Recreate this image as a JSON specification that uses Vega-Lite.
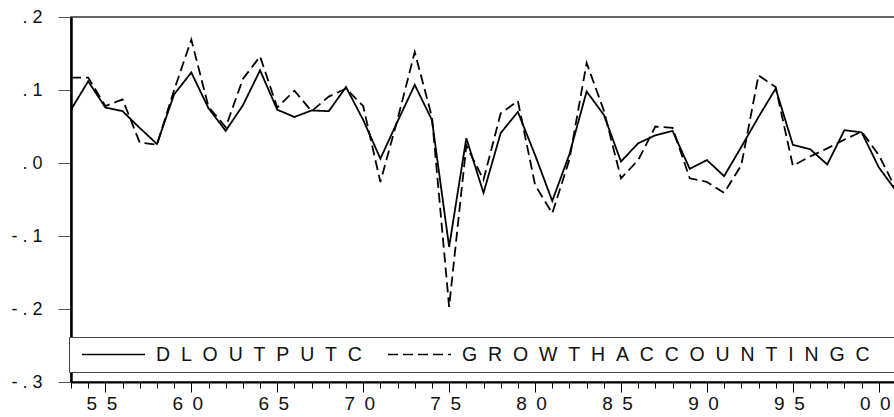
{
  "$schema": "https://vega.github.io/schema/vega-lite/v6.json",
  "width": 825,
  "height": 365,
  "autosize": {"type": "none"},
  "padding": {"left": 71, "top": 17, "right": 0, "bottom": 35},
  "background": "white",
  "config": {
    "font": "Liberation Sans",
    "view": {"stroke": "#333", "strokeWidth": 1.5},
    "legend": {
      "orient": "none",
      "legendX": -2,
      "legendY": 320,
      "direction": "horizontal",
      "columns": 2,
      "fillColor": "#ffffff",
      "strokeColor": "#444444",
      "strokeWidth": 1,
      "padding": 8,
      "cornerRadius": 0,
      "symbolType": "stroke",
      "symbolSize": 3969,
      "symbolStrokeWidth": 1.5,
      "symbolOffset": 4,
      "clipHeight": 19,
      "labelOffset": 10,
      "labelFontSize": 19.5,
      "labelFont": "Liberation Sans",
      "labelColor": "#111111",
      "labelLimit": 0,
      "columnPadding": 21
    }
  },
  "data": {
    "values": [
      {"year": 1953, "DLOUTPUTC": 0.073, "GROWTHACCOUNTINGC": 0.117},
      {"year": 1954, "DLOUTPUTC": 0.112, "GROWTHACCOUNTINGC": 0.117},
      {"year": 1955, "DLOUTPUTC": 0.076, "GROWTHACCOUNTINGC": 0.078},
      {"year": 1956, "DLOUTPUTC": 0.071, "GROWTHACCOUNTINGC": 0.087},
      {"year": 1957, "DLOUTPUTC": 0.048, "GROWTHACCOUNTINGC": 0.028},
      {"year": 1958, "DLOUTPUTC": 0.026, "GROWTHACCOUNTINGC": 0.025},
      {"year": 1959, "DLOUTPUTC": 0.094, "GROWTHACCOUNTINGC": 0.100},
      {"year": 1960, "DLOUTPUTC": 0.124, "GROWTHACCOUNTINGC": 0.169},
      {"year": 1961, "DLOUTPUTC": 0.075, "GROWTHACCOUNTINGC": 0.077},
      {"year": 1962, "DLOUTPUTC": 0.044, "GROWTHACCOUNTINGC": 0.049},
      {"year": 1963, "DLOUTPUTC": 0.079, "GROWTHACCOUNTINGC": 0.115},
      {"year": 1964, "DLOUTPUTC": 0.127, "GROWTHACCOUNTINGC": 0.146},
      {"year": 1965, "DLOUTPUTC": 0.073, "GROWTHACCOUNTINGC": 0.076},
      {"year": 1966, "DLOUTPUTC": 0.063, "GROWTHACCOUNTINGC": 0.099},
      {"year": 1967, "DLOUTPUTC": 0.072, "GROWTHACCOUNTINGC": 0.071},
      {"year": 1968, "DLOUTPUTC": 0.071, "GROWTHACCOUNTINGC": 0.091},
      {"year": 1969, "DLOUTPUTC": 0.104, "GROWTHACCOUNTINGC": 0.102},
      {"year": 1970, "DLOUTPUTC": 0.059, "GROWTHACCOUNTINGC": 0.078},
      {"year": 1971, "DLOUTPUTC": 0.006, "GROWTHACCOUNTINGC": -0.026},
      {"year": 1972, "DLOUTPUTC": 0.057, "GROWTHACCOUNTINGC": 0.060},
      {"year": 1973, "DLOUTPUTC": 0.107, "GROWTHACCOUNTINGC": 0.152},
      {"year": 1974, "DLOUTPUTC": 0.059, "GROWTHACCOUNTINGC": 0.063},
      {"year": 1975, "DLOUTPUTC": -0.115, "GROWTHACCOUNTINGC": -0.197},
      {"year": 1976, "DLOUTPUTC": 0.034, "GROWTHACCOUNTINGC": 0.024},
      {"year": 1977, "DLOUTPUTC": -0.041, "GROWTHACCOUNTINGC": -0.023},
      {"year": 1978, "DLOUTPUTC": 0.041, "GROWTHACCOUNTINGC": 0.068},
      {"year": 1979, "DLOUTPUTC": 0.070, "GROWTHACCOUNTINGC": 0.085},
      {"year": 1980, "DLOUTPUTC": 0.011, "GROWTHACCOUNTINGC": -0.030},
      {"year": 1981, "DLOUTPUTC": -0.052, "GROWTHACCOUNTINGC": -0.069},
      {"year": 1982, "DLOUTPUTC": 0.012, "GROWTHACCOUNTINGC": 0.005},
      {"year": 1983, "DLOUTPUTC": 0.098, "GROWTHACCOUNTINGC": 0.137},
      {"year": 1984, "DLOUTPUTC": 0.066, "GROWTHACCOUNTINGC": 0.072},
      {"year": 1985, "DLOUTPUTC": 0.002, "GROWTHACCOUNTINGC": -0.021},
      {"year": 1986, "DLOUTPUTC": 0.027, "GROWTHACCOUNTINGC": 0.004},
      {"year": 1987, "DLOUTPUTC": 0.038, "GROWTHACCOUNTINGC": 0.050},
      {"year": 1988, "DLOUTPUTC": 0.044, "GROWTHACCOUNTINGC": 0.048},
      {"year": 1989, "DLOUTPUTC": -0.008, "GROWTHACCOUNTINGC": -0.021},
      {"year": 1990, "DLOUTPUTC": 0.004, "GROWTHACCOUNTINGC": -0.026},
      {"year": 1991, "DLOUTPUTC": -0.018, "GROWTHACCOUNTINGC": -0.041},
      {"year": 1992, "DLOUTPUTC": 0.022, "GROWTHACCOUNTINGC": -0.003},
      {"year": 1993, "DLOUTPUTC": 0.063, "GROWTHACCOUNTINGC": 0.120},
      {"year": 1994, "DLOUTPUTC": 0.102, "GROWTHACCOUNTINGC": 0.104},
      {"year": 1995, "DLOUTPUTC": 0.025, "GROWTHACCOUNTINGC": -0.004},
      {"year": 1996, "DLOUTPUTC": 0.019, "GROWTHACCOUNTINGC": 0.009},
      {"year": 1997, "DLOUTPUTC": -0.002, "GROWTHACCOUNTINGC": 0.020},
      {"year": 1998, "DLOUTPUTC": 0.045, "GROWTHACCOUNTINGC": 0.032},
      {"year": 1999, "DLOUTPUTC": 0.042, "GROWTHACCOUNTINGC": 0.043},
      {"year": 2000, "DLOUTPUTC": -0.006, "GROWTHACCOUNTINGC": 0.011},
      {"year": 2001, "DLOUTPUTC": -0.038, "GROWTHACCOUNTINGC": -0.036}
    ]
  },
  "transform": [
    {"fold": ["DLOUTPUTC", "GROWTHACCOUNTINGC"], "as": ["series", "value"]}
  ],
  "mark": {"type": "line", "strokeWidth": 1.8},
  "encoding": {
    "x": {
      "field": "year",
      "type": "quantitative",
      "scale": {"domain": [1953, 2001], "nice": false, "zero": false},
      "axis": {
        "title": null,
        "grid": false,
        "values": [1953,1954,1955,1956,1957,1958,1959,1960,1961,1962,1963,1964,1965,1966,1967,1968,1969,1970,1971,1972,1973,1974,1975,1976,1977,1978,1979,1980,1981,1982,1983,1984,1985,1986,1987,1988,1989,1990,1991,1992,1993,1994,1995,1996,1997,1998,1999,2000,2001],
        "labelExpr": "datum.value % 5 === 0 ? (substring(toString(datum.value), 2, 3) + '\u2002' + substring(toString(datum.value), 3, 4)) : ''",
        "tickSize": {"condition": {"test": "datum.value % 5 === 0", "value": 10}, "value": 6},
        "tickColor": "#000000",
        "tickWidth": 1,
        "domainColor": "#000000",
        "domainWidth": 2,
        "labelFontSize": 19,
        "labelFont": "Liberation Sans",
        "labelColor": "#111111",
        "labelPadding": 2,
        "labelOffset": -4,
        "labelOverlap": false,
        "labelFlush": false,
        "labelBound": false
      }
    },
    "y": {
      "field": "value",
      "type": "quantitative",
      "scale": {"domain": [-0.3, 0.2], "nice": false, "zero": false},
      "axis": {
        "title": null,
        "grid": false,
        "values": [-0.3, -0.2, -0.1, 0, 0.1, 0.2],
        "labelExpr": "(datum.value < 0 ? '-\u00a0' : '') + '.\u00a0' + toString(round(abs(datum.value) * 10))",
        "tickSize": 13,
        "tickColor": "#555555",
        "tickWidth": 1,
        "domainColor": "#000000",
        "domainWidth": 2.5,
        "labelFontSize": 18,
        "labelFont": "Liberation Sans",
        "labelColor": "#111111",
        "labelPadding": 16,
        "labelOverlap": false,
        "labelFlush": false,
        "labelBound": false
      }
    },
    "color": {
      "field": "series",
      "type": "nominal",
      "title": null,
      "scale": {"range": ["#000000", "#000000"]},
      "legend": {"labelExpr": "join(split(datum.label, ''), '\u2007') + (datum.label == 'GROWTHACCOUNTINGC' ? '\u2800\u2800\u2800' : '')"}
    },
    "strokeDash": {
      "field": "series",
      "type": "nominal",
      "title": null,
      "scale": {"range": [[1, 0], [10, 5]]},
      "legend": {"labelExpr": "join(split(datum.label, ''), '\u2007') + (datum.label == 'GROWTHACCOUNTINGC' ? '\u2800\u2800\u2800' : '')"}
    }
  }
}
